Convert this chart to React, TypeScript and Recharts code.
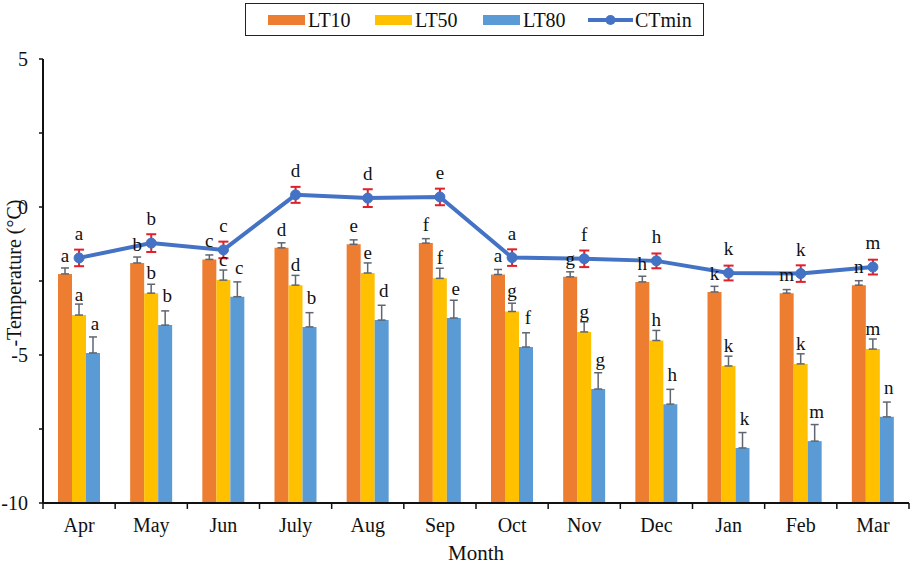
import {
    ComposedChart,
    Bar,
    Line,
    XAxis,
    YAxis,
    ErrorBar,
    LabelList,
} from "recharts";

const months = ["Apr", "May", "Jun", "July", "Aug", "Sep", "Oct", "Nov", "Dec", "Jan", "Feb", "Mar"];

const lt10 = [-2.26, -1.89, -1.77, -1.38, -1.26, -1.22, -2.28, -2.36, -2.53, -2.87, -2.91, -2.64];
const lt50 = [-3.65, -2.91, -2.47, -2.64, -2.23, -2.41, -3.53, -4.22, -4.51, -5.37, -5.3, -4.8];
const lt80 = [-4.93, -3.99, -3.03, -4.05, -3.82, -3.75, -4.73, -6.15, -6.66, -8.14, -7.91, -7.09];
const ctmin = [-1.72, -1.22, -1.45, 0.41, 0.3, 0.34, -1.71, -1.75, -1.82, -2.23, -2.25, -2.03];

const lt10Err = [0.2, 0.2, 0.15, 0.17, 0.15, 0.15, 0.17, 0.17, 0.19, 0.19, 0.12, 0.15];
const lt50Err = [0.37, 0.3, 0.34, 0.33, 0.34, 0.34, 0.28, 0.34, 0.34, 0.33, 0.34, 0.34];
const lt80Err = [0.54, 0.48, 0.5, 0.48, 0.5, 0.6, 0.48, 0.55, 0.5, 0.52, 0.56, 0.5];
const ctErr = [0.28, 0.3, 0.28, 0.27, 0.3, 0.28, 0.28, 0.28, 0.25, 0.25, 0.28, 0.25];

const lt10Letters = ["a", "b", "c", "d", "e", "f", "a", "g", "h", "k", "m", "n"];
const lt50Letters = ["a", "b", "c", "d", "e", "f", "g", "g", "h", "k", "k", "m"];
const lt80Letters = ["a", "b", "c", "b", "d", "e", "f", "g", "h", "k", "m", "n"];
const ctLetters = ["a", "b", "c", "d", "d", "e", "a", "f", "h", "k", "k", "m"];

const yTicks = [-10, -7.5, -5, -2.5, 0, 2.5, 5];

const FONT = "Liberation Serif, DejaVu Serif, serif";

const data = months.map((m, i) => ({
    month: m,
    lt10: lt10[i],
    lt50: lt50[i],
    lt80: lt80[i],
    ctmin: ctmin[i],
    lt10Err: [0, lt10Err[i]],
    lt50Err: [0, lt50Err[i]],
    lt80Err: [0, lt80Err[i]],
    ctErr: ctErr[i],
    lt10L: lt10Letters[i],
    lt50L: lt50Letters[i],
    lt80L: lt80Letters[i],
    ctL: ctLetters[i],
}));

function MonthTick(props: any) {
    const { x, y, payload, index } = props;
    const half = payload && payload.offset ? payload.offset : 36.08;
    return (
        <g>
            <line x1={x - half} y1={y} x2={x - half} y2={y + 6} stroke="#111" strokeWidth={1.5} />
            {index === months.length - 1 && (
                <line x1={x + half} y1={y} x2={x + half} y2={y + 6} stroke="#111" strokeWidth={1.5} />
            )}
            <text x={x} y={y + 29} textAnchor="middle" style={{ fontFamily: FONT }} fontSize={20} fill="#111">
                {payload.value}
            </text>
        </g>
    );
}

function YTitle(props: any) {
    const vb = props.viewBox || {};
    const cy = (vb.y ?? 59) + (vb.height ?? 444) / 2 - 8;
    return (
        <text
            x={21}
            y={cy}
            transform={`rotate(-90 21 ${cy})`}
            textAnchor="middle"
            style={{ fontFamily: FONT }}
            fontSize={20}
            fill="#111"
        >
            -Temperature (°C)
        </text>
    );
}

const labelStyle = { fontFamily: FONT, fontSize: 19, fill: "#111" };

function LegendBox() {
    const swatch = (color: string) => (
        <span style={{ display: "inline-block", width: 37, height: 10, background: color, marginRight: 3 }} />
    );
    const item = (left: number, icon: any, text: string) => (
        <div style={{ position: "absolute", left, top: 0, height: 31, display: "flex", alignItems: "center" }}>
            {icon}
            <span style={{ fontFamily: FONT, fontSize: 20, color: "#111", lineHeight: "20px" }}>{text}</span>
        </div>
    );
    return (
        <div
            style={{
                position: "absolute",
                left: 245,
                top: 3,
                width: 457,
                height: 31,
                border: "1.5px solid #222",
                background: "#fff",
            }}
        >
            {item(22, swatch("#ED7D31"), "LT10")}
            {item(129, swatch("#FFC000"), "LT50")}
            {item(237, swatch("#5B9BD5"), "LT80")}
            {item(
                342,
                <svg width={45} height={12} style={{ marginRight: 2 }}>
                    <line x1={0} y1={6} x2={45} y2={6} stroke="#4472C4" strokeWidth={4} />
                    <circle cx={22.5} cy={6} r={5} fill="#4472C4" />
                </svg>,
                "CTmin"
            )}
        </div>
    );
}

export default function App() {
    return (
        <div
            style={{
                position: "fixed",
                left: 0,
                top: 0,
                width: 913,
                height: 568,
                background: "#fff",
                fontFamily: FONT,
            }}
        >
            <ComposedChart
                width={913}
                height={568}
                data={data}
                margin={{ top: 59, right: 4, bottom: 0, left: 13 }}
                barGap={0}
                style={{ fontFamily: FONT }}
            >
                <XAxis
                    dataKey="month"
                    height={65}
                    tickLine={false}
                    tickSize={0}
                    tickMargin={0}
                    tick={<MonthTick />}
                    axisLine={{ stroke: "#111", strokeWidth: 2 }}
                    interval={0}
                    label={{
                        value: "Month",
                        position: "insideBottom",
                        offset: 8,
                        style: { fontFamily: FONT, fontSize: 21, fill: "#111" },
                    }}
                />
                <YAxis
                    width={30}
                    domain={[-10, 5]}
                    ticks={yTicks}
                    allowDataOverflow
                    tickSize={4}
                    tickMargin={11}
                    tickLine={{ stroke: "#111", strokeWidth: 1.5 }}
                    axisLine={{ stroke: "#111", strokeWidth: 2 }}
                    tick={{ fontSize: 20, fill: "#111", style: { fontFamily: FONT } }}
                    tickFormatter={(v: number) => (v % 5 === 0 ? String(v) : "")}
                    label={<YTitle />}
                />
                <Bar
                    dataKey={(d: any) => [-10, d.lt10]}
                    name="LT10"
                    fill="#ED7D31"
                    barSize={14}
                    isAnimationActive={false}
                >
                    <ErrorBar dataKey="lt10Err" width={4} stroke="#5f6670" strokeWidth={1.5} direction="y" />
                    <LabelList dataKey="lt10L" position="top" offset={12} style={labelStyle} />
                </Bar>
                <Bar
                    dataKey={(d: any) => [-10, d.lt50]}
                    name="LT50"
                    fill="#FFC000"
                    barSize={14}
                    isAnimationActive={false}
                >
                    <ErrorBar dataKey="lt50Err" width={4} stroke="#5f6670" strokeWidth={1.5} direction="y" />
                    <LabelList dataKey="lt50L" position="top" offset={14} style={labelStyle} />
                </Bar>
                <Bar
                    dataKey={(d: any) => [-10, d.lt80]}
                    name="LT80"
                    fill="#5B9BD5"
                    barSize={14}
                    isAnimationActive={false}
                >
                    <ErrorBar dataKey="lt80Err" width={4} stroke="#5f6670" strokeWidth={1.5} direction="y" />
                    <LabelList dataKey="lt80L" position="top" offset={23} dx={2} style={labelStyle} />
                </Bar>
                <Line
                    dataKey="ctmin"
                    name="CTmin"
                    type="linear"
                    stroke="#4472C4"
                    strokeWidth={4}
                    dot={{ r: 5, fill: "#4472C4", stroke: "#4472C4", strokeWidth: 1 }}
                    activeDot={false}
                    isAnimationActive={false}
                >
                    <ErrorBar dataKey="ctErr" width={5} stroke="#E0202A" strokeWidth={2} direction="y" />
                    <LabelList dataKey="ctL" position="top" offset={18} style={labelStyle} />
                </Line>
            </ComposedChart>
            <LegendBox />
        </div>
    );
}
